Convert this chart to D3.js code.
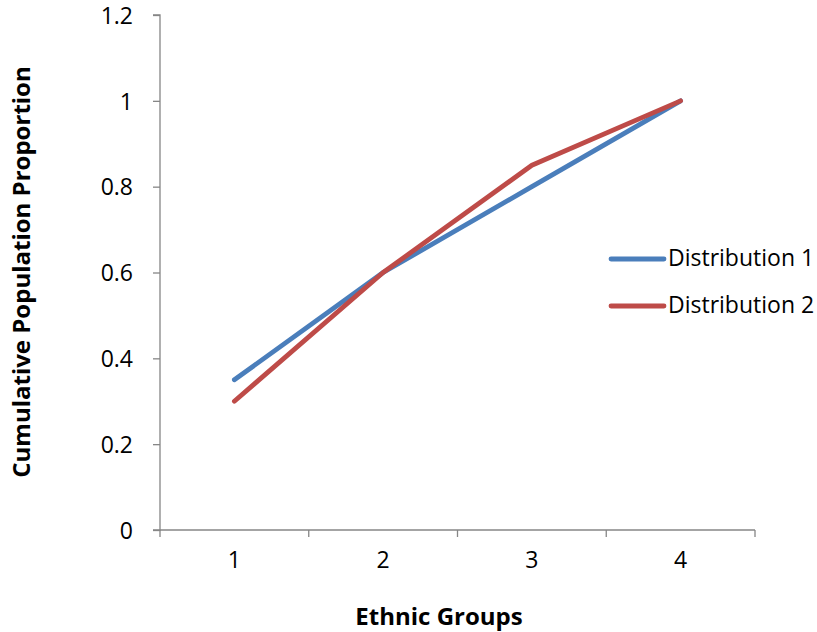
<!DOCTYPE html>
<html>
<head>
<meta charset="utf-8">
<script src="https://cdn.jsdelivr.net/npm/d3@7"></script>
<style>
  body { margin: 0; background: #fff; }
  text { font-family: "Open Sans", sans-serif; fill: #000; }
</style>
</head>
<body>
<svg id="chart" width="817" height="632"></svg>
<script>
const groups = ["1", "2", "3", "4"];
const dist1 = [0.35, 0.6, 0.8, 1.0];
const dist2 = [0.3, 0.6, 0.85, 1.0];
const yTicks = [0, 0.2, 0.4, 0.6, 0.8, 1, 1.2];
const seriesNames = ["Distribution 1", "Distribution 2"];
const colors = ["#4a7ebb", "#be4b48"];

const svg = d3.select("#chart");
const mLeft = 160, mRight = 755, mTop = 15, mBottom = 530;

const x = d3.scaleBand().domain(groups).range([mLeft, mRight]);
const y = d3.scaleLinear().domain([0, 1.2]).range([mBottom, mTop]);

// y axis
const yAxis = svg.append("g")
  .attr("transform", `translate(${mLeft},0)`)
  .call(d3.axisLeft(y).tickValues(yTicks).tickSize(7).tickPadding(20)
    .tickFormat(d => String(+d.toFixed(1))));
yAxis.selectAll("path, line").attr("stroke", "#868686").attr("stroke-width", 1.3);
yAxis.select(".domain").attr("d", `M-7,${mTop}H0V${mBottom}H-7`);
yAxis.selectAll("text").attr("font-size", 23).attr("dy", "0.36em")
  .style("font-family", "'Open Sans', sans-serif");

// x axis
const xAxis = svg.append("g")
  .attr("transform", `translate(0,${mBottom})`)
  .call(d3.axisBottom(x).tickSize(0));
xAxis.select("path").attr("d", `M${mLeft},0H${mRight}`).attr("stroke", "#868686").attr("stroke-width", 1.3);
xAxis.selectAll("text").attr("font-size", 23).attr("y", 38).attr("dy", 0)
  .style("font-family", "'Open Sans', sans-serif");
// tick marks at category boundaries
xAxis.selectAll(".bound")
  .data(groups.map(g => x(g)).concat([mRight]))
  .enter().append("line")
  .attr("x1", d => d).attr("x2", d => d)
  .attr("y1", 0).attr("y2", 7)
  .attr("stroke", "#868686").attr("stroke-width", 1.3);

// lines
const line = d3.line()
  .x((d, i) => x(groups[i]) + x.bandwidth() / 2)
  .y(d => y(d));

[dist1, dist2].forEach((vals, i) => {
  svg.append("path")
    .datum(vals)
    .attr("d", line)
    .attr("fill", "none")
    .attr("stroke", colors[i])
    .attr("stroke-width", 4.8)
    .attr("stroke-linecap", "round")
    .attr("stroke-linejoin", "round");
});

// legend
seriesNames.forEach((name, i) => {
  const ly = 259 + i * 47;
  svg.append("line")
    .attr("x1", 611).attr("x2", 664)
    .attr("y1", ly).attr("y2", ly)
    .attr("stroke", colors[i]).attr("stroke-width", 4.8)
    .attr("stroke-linecap", "round");
  svg.append("text")
    .attr("x", 668).attr("y", ly + 7)
    .attr("font-size", 23)
    .text(name);
});

// axis titles
svg.append("text")
  .attr("x", 439).attr("y", 625)
  .attr("text-anchor", "middle")
  .attr("font-size", 24).attr("font-weight", "bold")
  .text("Ethnic Groups");

svg.append("text")
  .attr("transform", `translate(30,272) rotate(-90)`)
  .attr("text-anchor", "middle")
  .attr("font-size", 24).attr("font-weight", "bold")
  .text("Cumulative Population Proportion");
</script>
</body>
</html>
